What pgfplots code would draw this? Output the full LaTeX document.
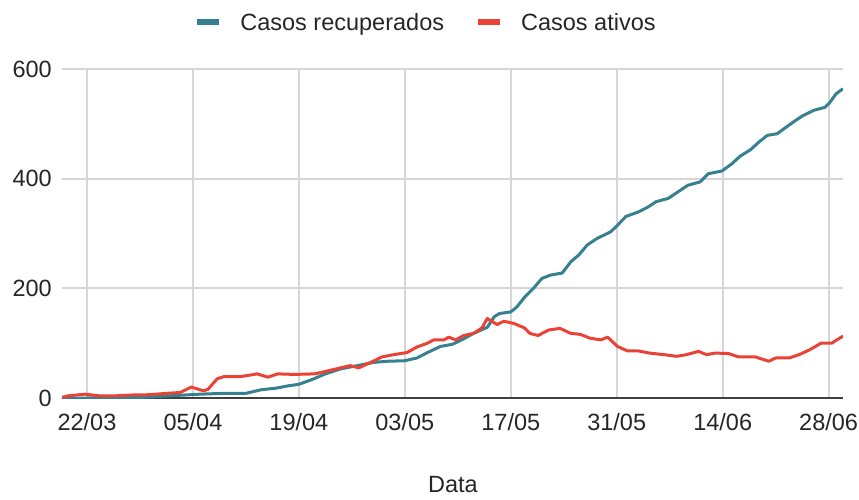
\documentclass[border=0pt]{standalone}
\usepackage{fontspec}
\setmainfont{Liberation Sans}
\usepackage{pgfplots}
\pgfplotsset{compat=1.18}
\newcommand\fs{\fontsize{23.5pt}{28pt}\selectfont}
\definecolor{recblue}{HTML}{36808F}
\definecolor{atred}{HTML}{EA4335}
\definecolor{gridgray}{HTML}{D6D6D6}
\definecolor{axdark}{HTML}{404040}
\begin{document}
\begin{tikzpicture}
\useasboundingbox (0,0) rectangle (859pt,499pt);
\begin{axis}[
  at={(62pt,101pt)}, anchor=south west,
  scale only axis, width=781pt, height=329pt,
  xmin=-3.3, xmax=99.9, ymin=0, ymax=600,
  xtick={0,14,28,42,56,70,84,98},
  xticklabels={22/03,05/04,19/04,03/05,17/05,31/05,14/06,28/06},
  ytick={200,400,600},
  extra y ticks={0},
  extra y tick style={grid style={draw=axdark, line width=2pt}},
  grid=major,
  grid style={draw=gridgray, line width=2pt},
  axis line style={draw=none},
  major tick length=0pt,
  /pgf/number format/assume math mode=true,
  tick label style={font=\fs, text=black!85},
  xticklabel style={anchor=north, inner sep=0pt, yshift=-15pt},
  yticklabel style={anchor=east, inner sep=0pt, xshift=-10pt},
  xlabel={Data},
  xlabel style={font=\fs, text=black!85, inner sep=0pt, at={(axis description cs:0.5006,-0.2645)}, anchor=center},
  legend columns=2,
  legend style={draw=none, fill=none, font=\fs, text=black!85,
    at={(axis description cs:0.4648,1.1429)}, anchor=center,
    /tikz/every odd column/.append style={column sep=18pt},
    /tikz/every even column/.append style={column sep=31pt},
    inner sep=0pt},
  legend cell align=left,
  legend image code/.code={\draw[#1, line width=6pt, line cap=butt] (0pt,0pt) -- (22pt,0pt);},
  every axis legend/.append style={nodes={inner sep=0pt, text depth=0pt}},
]
\addplot[recblue, line width=3pt, line join=round] coordinates {
(-3.3,0) (0,0) (3,0.5) (7,1) (11,4) (15,7) (18,8.5) (21,8.5) (23,15) (25,18) (26.5,22) (28,25) (29.8,34) (31.5,44) (33.5,53) (35.7,59) (37.9,65) (39.7,67) (42,68) (43.6,73) (45,83) (46.7,94) (48.3,98) (49.8,108) (51.1,118) (52.9,129) (53.8,148) (54.5,154) (56,157) (56.8,166) (57.9,185) (59,200) (60.1,218) (61.2,224) (62.8,228) (63.9,248) (65,261) (66.1,279) (67.4,291) (69.2,303) (70.1,315) (71.2,331) (72.8,339) (74.1,348) (75.2,358) (76.8,364) (78.1,376) (79.4,388) (81,394) (82.1,409) (83.9,414) (85.2,427) (86.3,441) (87.7,453) (88.8,467) (89.9,479) (91.2,482) (92.4,494) (93.5,505) (94.6,515) (96.1,525) (97.5,530) (98.1,538) (99,555) (99.9,564)
};
\addlegendentry{Casos recuperados}
\addplot[atred, line width=3pt, line join=round] coordinates {
(-3.3,1) (-2.5,4) (-0.2,7) (1.6,4) (3.8,4) (6,5.5) (8.2,6) (10.5,8.5) (12.3,10) (13.8,20) (15.4,13) (16,16) (17.2,35) (18.1,39) (20.3,39) (22.5,44) (23.9,38) (25.2,44) (27.4,43) (30.1,44) (32,50) (33.5,55) (34.8,59) (35.9,55) (37.5,65) (39,75) (40.5,79) (42.3,83) (43.6,93) (45,100) (45.8,106) (47.2,106) (47.8,111) (48.7,106) (49.8,114) (51.1,118) (52.2,128) (52.9,145) (53.6,139) (54.2,134) (55.1,140) (56.4,136) (57.8,128) (58.5,118) (59.6,114) (61,124) (62.5,127) (63.9,118) (65.2,116) (66.5,109) (67.9,106) (68.8,111) (70.1,94) (71.4,86) (72.8,86) (74.3,82) (76.3,79) (77.9,76) (79.2,79) (80.8,85) (81.9,79) (83,82) (84.8,81) (86.1,75) (88.3,75) (90.1,67) (91,73) (92.8,73) (94.1,79) (95.5,88) (97,100) (98.4,100) (99.9,113)
};
\addlegendentry{Casos ativos}
\end{axis}
\end{tikzpicture}
\end{document}
